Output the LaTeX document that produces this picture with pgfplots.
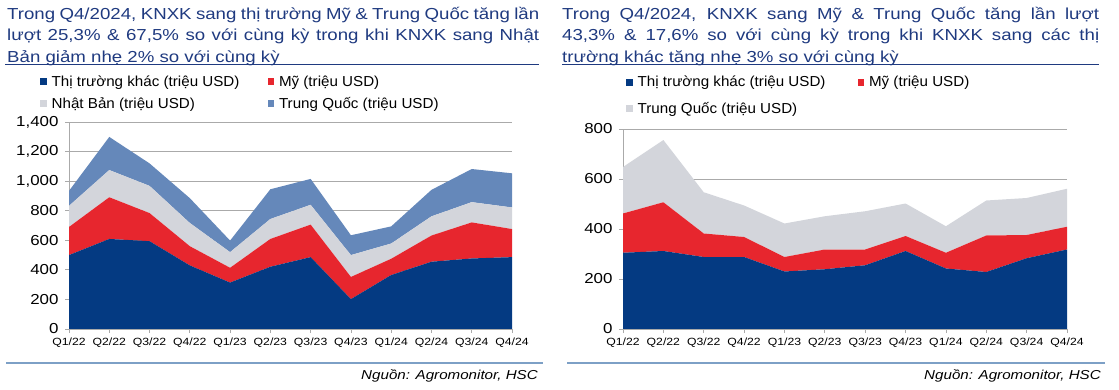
\documentclass[border=0pt]{standalone}
\usepackage{fontspec}
\setmainfont{Liberation Sans}[FakeStretch=1.17]
\newfontfamily\legfont{Liberation Sans}[FakeStretch=1.05]
\usepackage{pgfplots}
\pgfplotsset{compat=1.18}
\definecolor{cNavy}{RGB}{4,58,130}
\definecolor{cRed}{RGB}{231,38,46}
\definecolor{cLight}{RGB}{211,213,219}
\definecolor{cSteel}{RGB}{101,136,186}
\definecolor{cTitle}{RGB}{31,58,128}
\definecolor{cFoot}{RGB}{125,160,198}
\definecolor{cGrid}{RGB}{170,170,170}
\pgfplotsset{
  basestyle/.style={
    scale only axis, xmin=0, xmax=11, ymin=0,
    stack plots=y,
    axis lines*=left,
    axis line style={cGrid, line width=0.8bp},
    ymajorgrids, grid style={cGrid, line width=0.7bp},
    major tick length=4bp, tick style={cGrid, line width=0.8bp},
    tick align=outside,
    xtick={0,...,11},
    xticklabels={Q1/22,Q2/22,Q3/22,Q4/22,Q1/23,Q2/23,Q3/23,Q4/23,Q1/24,Q2/24,Q3/24,Q4/24},
    x tick label style={font=\fontsize{10.5}{12}\selectfont, text=black, inner sep=1bp, yshift=-4bp},
    y tick label style={font=\fontsize{14.5}{16}\selectfont, text=black, xshift=-3bp},
    /pgf/number format/assume math mode=true,
    /pgf/number format/1000 sep={,},
    scaled y ticks=false,
    legend style={draw=none, fill=none, font=\legfont\fontsize{14.5}{17}\selectfont,
      anchor=north west, inner sep=0pt, nodes={inner sep=0pt},
      /tikz/every odd column/.append style={column sep=5bp}},
    legend columns=2,
    legend cell align=left,
    legend image code/.code={\fill[##1] (0bp,-3.25bp) rectangle (6.5bp,3.25bp);},
  }
}
\begin{document}
\begin{tikzpicture}
\useasboundingbox (0,0) rectangle (1119bp,390bp);
% ---------- Left chart ----------
\node[anchor=north west, inner sep=0pt, text width=532bp, align=justify, text=cTitle,
  font=\fontsize{16}{21.5}\selectfont] at (7bp,383bp)
  {Trong Q4/2024, KNXK sang thị trường Mỹ \& Trung Quốc tăng lần\linebreak
   lượt 25,3\% \& 67,5\% so với cùng kỳ trong khi KNXK sang Nhật\linebreak
   Bản giảm nhẹ 2\% so với cùng kỳ};
\draw[cTitle, line width=1bp] (5bp,325bp) -- (539bp,325bp);
\begin{axis}[basestyle,
  at={(69bp,61bp)}, anchor=south west,
  width=443bp, height=207bp,
  ymax=1400, ytick={0,200,...,1400},
  legend style={at={(axis description cs:-0.0655,1.225)}, row sep=9.5bp,
    /tikz/every even column/.append style={column sep=28bp}},
]
\addplot[fill=cNavy, draw=none] coordinates {(0,500) (1,609) (2,594) (3,430) (4,314) (5,421) (6,486) (7,202) (8,365) (9,455) (10,477) (11,486)} \closedcycle;
\addlegendentry{Thị trường khác (triệu USD)}
\addplot[fill=cRed, draw=none] coordinates {(0,190) (1,282) (2,190) (3,130) (4,100) (5,188) (6,220) (7,150) (8,110) (9,177) (10,244) (11,190)} \closedcycle;
\addlegendentry{Mỹ (triệu USD)}
\addplot[fill=cLight, draw=none] coordinates {(0,143) (1,184) (2,184) (3,157) (4,106) (5,135) (6,134) (7,148) (8,103) (9,130) (10,137) (11,146)} \closedcycle;
\addlegendentry{Nhật Bản (triệu USD)}
\addplot[fill=cSteel, draw=none] coordinates {(0,101) (1,224) (2,152) (3,168) (4,78) (5,201) (6,175) (7,134) (8,116) (9,179) (10,224) (11,231)} \closedcycle;
\addlegendentry{Trung Quốc (triệu USD)}
\end{axis}
\draw[cFoot, line width=2bp] (6bp,27bp) -- (543bp,27bp);
\node[anchor=base east, inner sep=0pt, font=\itshape\fontsize{13}{15}\selectfont] at (538bp,11bp) {Nguồn: Agromonitor, HSC};
% ---------- Right chart ----------
\node[anchor=north west, inner sep=0pt, text width=537bp, align=justify, text=cTitle,
  font=\fontsize{16}{21.5}\selectfont] at (562bp,383bp)
  {Trong Q4/2024, KNXK sang Mỹ \& Trung Quốc tăng lần lượt\linebreak
   43,3\% \& 17,6\% so với cùng kỳ trong khi KNXK sang các thị\linebreak
   trường khác tăng nhẹ 3\% so với cùng kỳ};
\draw[cTitle, line width=1bp] (562bp,325bp) -- (1099bp,325bp);
\begin{axis}[basestyle,
  at={(623bp,61bp)}, anchor=south west,
  width=444bp, height=200bp,
  ymax=800, ytick={0,200,...,800},
  legend style={at={(axis description cs:0.0068,1.265)}, row sep=14bp,
    /tikz/every even column/.append style={column sep=32bp}},
]
\addplot[fill=cNavy, draw=none] coordinates {(0,305) (1,312) (2,288) (3,288) (4,230) (5,239) (6,255) (7,312) (8,242) (9,228) (10,283) (11,318)} \closedcycle;
\addlegendentry{Thị trường khác (triệu USD)}
\addplot[fill=cRed, draw=none] coordinates {(0,157) (1,195) (2,94) (3,80) (4,58) (5,79) (6,63) (7,60) (8,63) (9,146) (10,93) (11,91)} \closedcycle;
\addlegendentry{Mỹ (triệu USD)}
\addplot[fill=cLight, draw=none] coordinates {(0,186) (1,249) (2,165) (3,126) (4,134) (5,133) (6,153) (7,130) (8,106) (9,140) (10,148) (11,152)} \closedcycle;
\addlegendentry{Trung Quốc (triệu USD)}
\end{axis}
\draw[cFoot, line width=2bp] (567bp,27bp) -- (1105bp,27bp);
\node[anchor=base east, inner sep=0pt, font=\itshape\fontsize{13}{15}\selectfont] at (1101bp,11bp) {Nguồn: Agromonitor, HSC};
\end{tikzpicture}
\end{document}
